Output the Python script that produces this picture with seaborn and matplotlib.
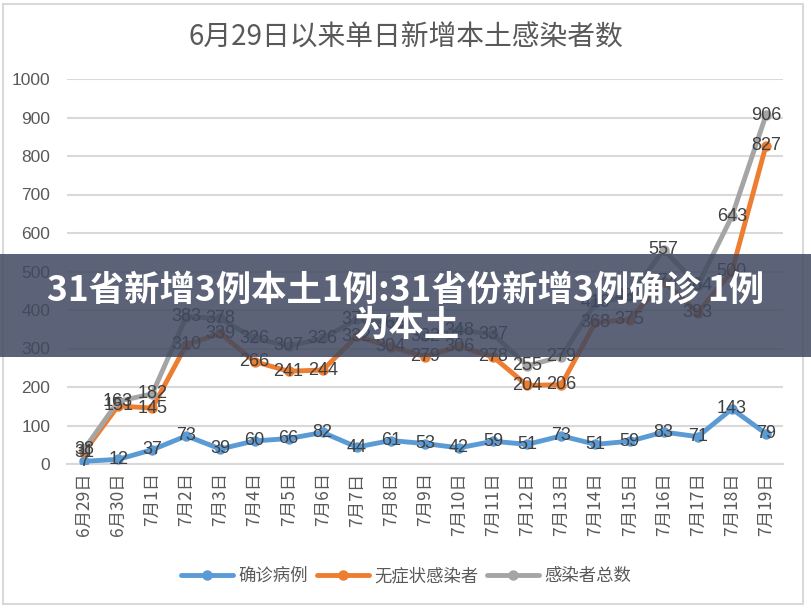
import matplotlib
matplotlib.use("Agg")
import matplotlib.pyplot as plt
from matplotlib.lines import Line2D
from matplotlib.patches import Rectangle
import seaborn as sns
import pandas as pd

dates = ["6月29日", "6月30日", "7月1日", "7月2日", "7月3日", "7月4日", "7月5日",
         "7月6日", "7月7日", "7月8日", "7月9日", "7月10日", "7月11日", "7月12日",
         "7月13日", "7月14日", "7月15日", "7月16日", "7月17日", "7月18日", "7月19日"]
confirmed = [7, 12, 37, 73, 39, 60, 66, 82, 44, 61, 53, 42, 59, 51, 73, 51, 59, 83, 71, 143, 79]
asymptomatic = [31, 151, 145, 310, 339, 266, 241, 244, 332, 304, 279, 306, 278, 204, 206,
                368, 375, 474, 393, 500, 827]
total = [38, 163, 182, 383, 378, 326, 307, 326, 376, 365, 332, 348, 337, 255, 279,
         419, 434, 557, 464, 643, 906]
series_names = ["确诊病例", "无症状感染者", "感染者总数"]
colors = ["#5B9BD5", "#ED7D31", "#A5A5A5"]

title = "6月29日以来单日新增本土感染者数"
banner_lines = ["31省新增3例本土1例:31省份新增3例确诊 1例", "为本土"]

sns.set_theme(style="white")
plt.rcParams["font.family"] = ["Liberation Sans", "Noto Sans CJK SC", "DejaVu Sans"]

rows = []
for name, vals in zip(series_names, [confirmed, asymptomatic, total]):
    for i, v in enumerate(vals):
        rows.append({"idx": i, "value": v, "series": name})
df = pd.DataFrame(rows)

fig = plt.figure(figsize=(8.12, 6.12), dpi=100)
fig.patch.set_facecolor("white")
ax = fig.add_axes([67 / 812, 1 - 464 / 612, (783 - 67) / 812, (464 - 79) / 612])

sns.lineplot(data=df, x="idx", y="value", hue="series", hue_order=series_names,
             palette=colors, marker="o", markersize=7.5, markeredgewidth=0,
             linewidth=3.5, legend=False, ax=ax, zorder=3)

# data labels
for vals in [confirmed, asymptomatic, total]:
    for i, v in enumerate(vals):
        ax.text(i, v, str(v), ha="center", va="center", fontsize=13,
                color="#404040", zorder=5, family=["Liberation Sans"])

ax.set_xlim(-0.5, len(dates) - 0.5)
ax.set_ylim(0, 1000)
ax.set_yticks(range(0, 1001, 100))
ax.set_xticks(range(len(dates)))
ax.set_xticklabels(dates, rotation=90, fontsize=12.5, color="#595959",
                   family=["Noto Sans CJK SC", "Liberation Sans"])
ax.tick_params(axis="y", labelsize=12.5, labelcolor="#595959", length=0, pad=12)
ax.tick_params(axis="x", which="major", length=0, pad=6)
ax.set_xticks([i - 0.5 for i in range(len(dates) + 1)], minor=True)
ax.tick_params(axis="x", which="minor", length=6, color="#d9d9d9", width=1.2)
ax.grid(axis="y", color="#d9d9d9", linewidth=1.5)
ax.set_axisbelow(True)
for s in ["top", "right", "left"]:
    ax.spines[s].set_visible(False)
ax.spines["bottom"].set_color("#d9d9d9")
ax.spines["bottom"].set_linewidth(1.5)
ax.set_xlabel("")
ax.set_ylabel("")

fig.text(0.5, 1 - 38 / 612, title, ha="center", va="center", fontsize=20,
         color="#595959", fontweight="light", family=["Noto Sans CJK SC"])

handles = [Line2D([0], [0], color=c, linewidth=3.5, marker="o", markersize=7.5,
                  markeredgewidth=0) for c in colors]
fig.legend(handles, series_names, loc="center", bbox_to_anchor=(0.5, 1 - 576 / 612),
           ncol=3, frameon=False, handlelength=3.0, columnspacing=0.5,
           handletextpad=0.3, prop={"family": ["Noto Sans CJK SC"], "size": 12.5})
for t in fig.legends[0].get_texts():
    t.set_color("#595959")

# outer border
fig.patches.append(Rectangle((3 / 812, 1 - 604 / 612), 800 / 812, 600 / 612,
                             transform=fig.transFigure, fill=False,
                             edgecolor="#d9d9d9", linewidth=1.5, zorder=0))

# overlay banner
fig.patches.append(Rectangle((0, 1 - 357 / 612), 1, 103 / 612, transform=fig.transFigure,
                             facecolor="#3f4860", alpha=0.85, edgecolor="none", zorder=10))
fig.text(0.5, 1 - 290 / 612, banner_lines[0], ha="center", va="center", fontsize=25.5,
         color="white", fontweight="bold", family=["Noto Sans CJK SC"], zorder=11)
fig.text(0.5, 1 - 325 / 612, banner_lines[1], ha="center", va="center", fontsize=25.5,
         color="white", fontweight="bold", family=["Noto Sans CJK SC"], zorder=11)

fig.savefig("out.png", dpi=100)
